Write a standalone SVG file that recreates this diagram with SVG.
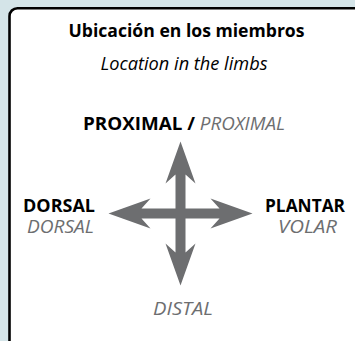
<svg xmlns="http://www.w3.org/2000/svg" width="355" height="341" viewBox="0 0 355 341">
<style>
text{font-family:"Open Sans","Noto Sans","Liberation Sans",sans-serif;}
.b{font-weight:bold;fill:#000;}
.i{font-style:italic;fill:#6d6e70;}
.t{font-size:17.5px;}
.l{font-size:18px;}
</style>
<rect width="355" height="341" fill="#d4e4e8"/>
<g id="frame"><rect x="9.5" y="8.2" width="420" height="420" rx="8" fill="#fff" stroke="#000" stroke-width="2.6"/></g>
<g id="title">
<text class="b t" x="186.5" y="37" text-anchor="middle" textLength="236" lengthAdjust="spacingAndGlyphs">Ubicación en los miembros</text>
<text class="t" x="184" y="70" text-anchor="middle" font-style="italic" fill="#000" textLength="167" lengthAdjust="spacingAndGlyphs">Location in the limbs</text>
</g>
<g id="connectors">
<polygon fill="#6d6e70" transform="translate(180.5,213.5)" points="0,-72 15,-30 5,-39 5,-5 39,-5 30,-15 72,0 30,15 39,5 5,5 5,39 15,30 0,72 -15,30 -5,39 -5,5 -39,5 -30,15 -72,0 -30,-15 -39,-5 -5,-5 -5,-39 -15,-30"/>
</g>
<g id="proximal"><text class="l" x="83" y="130" textLength="202" lengthAdjust="spacingAndGlyphs"><tspan class="b">PROXIMAL / </tspan><tspan class="i">PROXIMAL</tspan></text></g>
<g id="dorsal">
<text class="b l" x="59" y="212" text-anchor="middle" textLength="72" lengthAdjust="spacingAndGlyphs">DORSAL</text>
<text class="i l" x="60.5" y="233" text-anchor="middle" textLength="67" lengthAdjust="spacingAndGlyphs">DORSAL</text>
</g>
<g id="plantar">
<text class="b l" x="305" y="212" text-anchor="middle" textLength="80" lengthAdjust="spacingAndGlyphs">PLANTAR</text>
<text class="i l" x="307.5" y="233" text-anchor="middle" textLength="59" lengthAdjust="spacingAndGlyphs">VOLAR</text>
</g>
<g id="distal"><text class="i l" x="183" y="315" text-anchor="middle" textLength="60" lengthAdjust="spacingAndGlyphs">DISTAL</text></g>
</svg>
